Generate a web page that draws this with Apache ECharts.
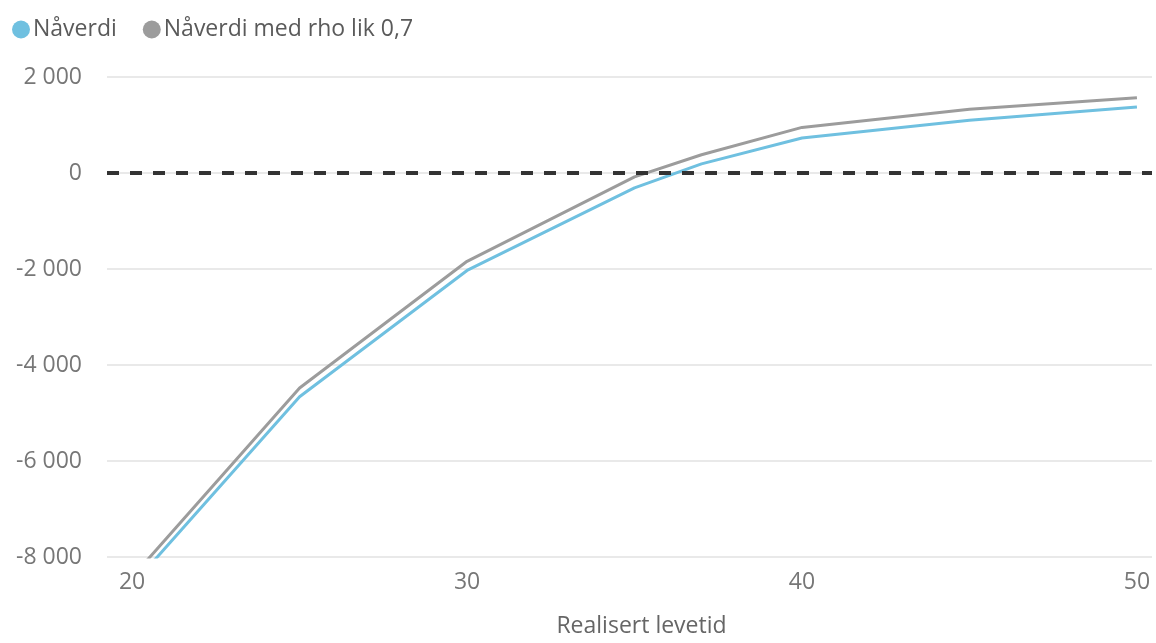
<!DOCTYPE html>
<html>
<head>
<meta charset="utf-8">
<script src="https://cdn.jsdelivr.net/npm/echarts@6/dist/echarts.min.js"></script>
<style>
html,body{margin:0;padding:0;background:#fff;}
#c{width:1156px;height:643px;}
</style>
</head>
<body>
<div id="c"></div>
<script>
const levetid = [20, 25, 30, 35, 37, 40, 45, 50];
const naverdi = [-8590, -4660, -2030, -310, 190, 730, 1100, 1375];
const naverdiRho = [-8420, -4480, -1840, -80, 380, 950, 1330, 1570];
const xTicks = [20, 30, 40, 50];
const seriesNames = ['Nåverdi', 'Nåverdi med rho lik 0,7'];
const xName = 'Realisert levetid';

function fmt(v) {
  const s = Math.abs(v).toString().replace(/\B(?=(\d{3})+(?!\d))/g, ' ');
  return (v < 0 ? '-' : '') + s;
}
const font = '"Open Sans", "Noto Sans", sans-serif';
const chart = echarts.init(document.getElementById('c'));
chart.setOption({
  animation: false,
  textStyle: { fontFamily: font },
  legend: {
    left: 7, top: 13,
    icon: 'circle', itemWidth: 18, itemHeight: 18, itemGap: 26,
    textStyle: { fontSize: 23, color: '#5a5a5a', fontFamily: font, padding: [0, 0, 0, -2] },
    data: seriesNames
  },
  grid: { left: 107, right: 4, top: 77, bottom: 86, containLabel: false, outerBoundsMode: 'none' },
  xAxis: {
    type: 'value', min: 19.25, max: 50.45,
    name: xName, nameLocation: 'middle', nameGap: 58,
    nameTextStyle: { fontSize: 23, color: '#666', fontFamily: font, padding: [0, 0, 0, 24] },
    axisLine: { show: false }, axisTick: { show: false },
    splitLine: { show: false },
    axisLabel: { customValues: xTicks, fontSize: 23, color: '#777', margin: 14, fontFamily: font }
  },
  yAxis: {
    type: 'value', min: -8000, max: 2000, interval: 2000,
    axisLine: { show: false }, axisTick: { show: false },
    splitLine: { lineStyle: { color: '#e9e9e9', width: 2 } },
    axisLabel: { formatter: fmt, fontSize: 23, color: '#777', margin: 25, fontFamily: font }
  },
  series: [
    {
      name: seriesNames[0], type: 'line', showSymbol: false, symbol: 'none',
      color: '#6FC0E0', lineStyle: { width: 3, color: '#6FC0E0' },
      data: levetid.map((x, i) => [x, naverdi[i]])
    },
    {
      name: seriesNames[1], type: 'line', showSymbol: false, symbol: 'none',
      color: '#9C9C9C', lineStyle: { width: 3, color: '#9C9C9C' },
      data: levetid.map((x, i) => [x, naverdiRho[i]]),
      markLine: {
        silent: true, symbol: 'none', label: { show: false },
        lineStyle: { color: '#333', width: 4, type: [12, 11] },
        data: [{ yAxis: 0 }]
      }
    }
  ]
});
</script>
</body>
</html>
